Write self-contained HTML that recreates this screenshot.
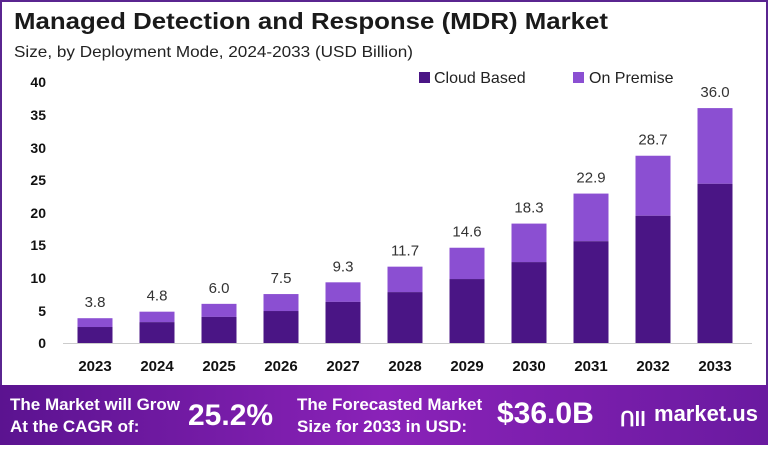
<!DOCTYPE html>
<html><head><meta charset="utf-8"><style>
body{margin:0;width:768px;height:445px;overflow:hidden;background:#fff;font-family:"Liberation Sans",sans-serif}
</style></head><body>
<svg width="768" height="445" xmlns="http://www.w3.org/2000/svg" font-family="Liberation Sans, sans-serif">
<defs><linearGradient id="g" x1="0" x2="1"><stop offset="0" stop-color="#5b1390"/><stop offset="0.5" stop-color="#8a22b8"/><stop offset="1" stop-color="#6a1aa0"/></linearGradient></defs>
<rect x="1" y="1" width="766" height="443" fill="#fff" stroke="#5a2590" stroke-width="2"/>
<text x="14" y="29" font-size="23" font-weight="bold" fill="#1a1a1a" textLength="594" lengthAdjust="spacingAndGlyphs">Managed Detection and Response (MDR) Market</text>
<text x="14" y="57" font-size="16" fill="#222" textLength="399" lengthAdjust="spacingAndGlyphs">Size, by Deployment Mode, 2024-2033 (USD Billion)</text>
<rect x="419" y="72" width="11" height="11" fill="#4a1585"/><text x="434" y="83" font-size="16" fill="#222">Cloud Based</text>
<rect x="573" y="72" width="11" height="11" fill="#8b4fd2"/><text x="589" y="83" font-size="16" fill="#222">On Premise</text>
<g font-size="14" font-weight="bold" fill="#111" text-anchor="end">
<text x="46" y="348">0</text><text x="46" y="316">5</text><text x="46" y="283">10</text><text x="46" y="250">15</text><text x="46" y="218">20</text><text x="46" y="185">25</text><text x="46" y="153">30</text><text x="46" y="120">35</text><text x="46" y="87">40</text>
</g>
<line x1="63" y1="343.5" x2="752" y2="343.5" stroke="#ccc"/>
<g id="bars"></g>
<rect x="0" y="385" width="768" height="60" fill="url(#g)"/>
<g fill="#fff" font-weight="bold">
<text x="10" y="410" font-size="17">The Market will Grow</text>
<text x="10" y="432" font-size="17">At the CAGR of:</text>
<text x="188" y="425" font-size="30">25.2%</text>
<text x="297" y="410" font-size="17">The Forecasted Market</text>
<text x="297" y="432" font-size="17">Size for 2033 in USD:</text>
<text x="497" y="423" font-size="30">$36.0B</text>
<text x="654" y="421" font-size="22" textLength="104" lengthAdjust="spacingAndGlyphs">market.us</text>
<text x="620" y="426" font-size="20">ᑎll</text>
</g>
</svg>
<script>
var tot=[3.8,4.8,6.0,7.5,9.3,11.7,14.6,18.3,22.9,28.7,36.0];
var cl=[2.45,3.2,4.0,4.9,6.3,7.8,9.8,12.4,15.6,19.5,24.4];
var s='';
for(var i=0;i<11;i++){var cx=95+62*i,k=6.525,b=343;
var ht=tot[i]*k,hc=cl[i]*k;
s+='<rect x="'+(cx-17.5)+'" y="'+(b-ht)+'" width="35" height="'+(ht-hc)+'" fill="#8b4fd2"/>';
s+='<rect x="'+(cx-17.5)+'" y="'+(b-hc)+'" width="35" height="'+hc+'" fill="#4a1585"/>';
s+='<text x="'+cx+'" y="'+(b-ht-11)+'" font-size="15" fill="#333" text-anchor="middle">'+tot[i].toFixed(1)+'</text>';
s+='<text x="'+cx+'" y="371" font-size="15" font-weight="bold" fill="#111" text-anchor="middle">'+(2023+i)+'</text>';}
document.getElementById('bars').innerHTML=s;
</script>
</body></html>
